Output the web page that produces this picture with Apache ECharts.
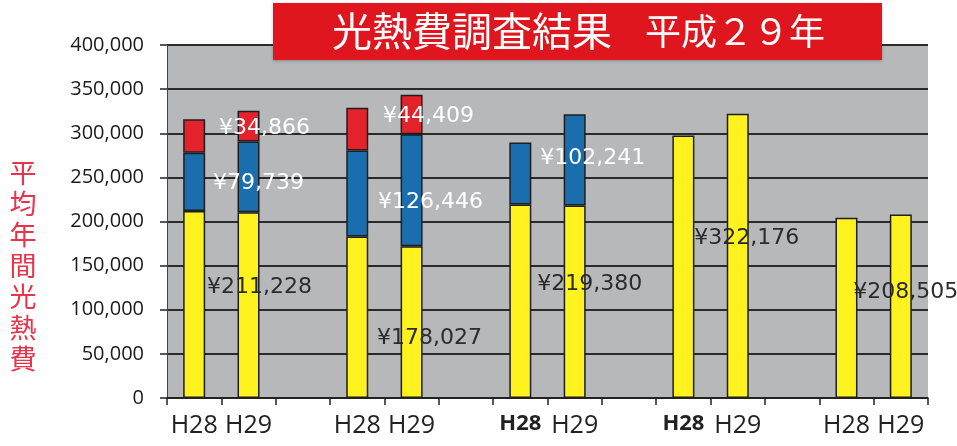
<!DOCTYPE html>
<html>
<head>
<meta charset="utf-8">
<script src="https://cdn.jsdelivr.net/npm/echarts@6/dist/echarts.min.js"></script>
<style>
    body { margin: 0; background: #fff; }
    #chart { width: 957px; height: 446px; }
</style>
</head>
<body>
<div id="chart"></div>
<script>

// 横軸（空欄はグループ間のすき間）
const categories = ['H28', 'H29', '', 'H28', 'H29', '', 'H28', 'H29', '', 'H28', 'H29', '', 'H28', 'H29'];

// 積み上げ値（下から 黄・青・赤）
const yellowValues = [212000, 210600, '-', 183000, 172000, '-', 219300, 218200, '-', 297500, 322200, '-', 204200, 208000];
const blueValues   = [66000, 80000, '-', 97500, 127000, '-', 70100, 103400, '-', '-', '-', '-', '-', '-'];
const redValues    = [37800, 34800, '-', 48500, 44500, '-', '-', '-', '-', '-', '-', '-', '-', '-'];

// H29 に書かれている金額
const yellowLabels = [null, 211228, null, null, 178027, null, null, 219380, null, null, 322176, null, null, 208505];
const blueLabels   = [null, 79739, null, null, 126446, null, null, 102241, null, null, null, null, null, null];
const redLabels    = [null, 34866, null, null, 44409, null, null, null, null, null, null, null, null, null];

const yTicks = [0, 50000, 100000, 150000, 200000, 250000, 300000, 350000, 400000];

// ラベルのずれ（位置調整）
const yellowOffsets = { 1: [11, -18], 4: [18, 16], 7: [15, -17], 10: [9, -18], 13: [5, -14] };
const blueOffsets   = { 1: [10, 6], 4: [19, 12], 7: [18, -2] };
const redOffsets    = { 1: [16, 2], 4: [17, 2] };

function yen(v){
    return '¥' + v.toLocaleString('en-US');
}

function buildData(values, labels, offsets, color){
    return values.map((v, i) => {
        if (labels[i] == null) return v;
        return {
            value: v,
            label: {
                show: true,
                position: 'inside',
                formatter: yen(labels[i]),
                offset: offsets[i],
                color: color,
                fontFamily: 'DejaVu Sans',
                fontSize: 22,
            }
        };
    });
}

const barStyle = (color) => ({
    color: color,
    borderColor: '#1e1e1e',
    borderWidth: 1.5,
});

const charts = echarts.init(document.getElementById('chart'));

let option = {
    animation: false,
    grid: {
        left: 167,
        right: 29,
        top: 45,
        bottom: 48,
        show: true,
        backgroundColor: '#b7b8ba',
        borderWidth: 0,
    },
    xAxis: {
        type: 'category',
        data: categories,
        axisLine: { lineStyle: { color: '#222', width: 1.5 } },
        axisTick: { show: true, length: 7, interval: 0, lineStyle: { color: '#222', width: 1.5 } },
        axisLabel: {
            interval: 0,
            margin: 15,
            color: '#222',
            fontFamily: 'Open Sans',
            fontSize: 25,
            formatter: (value, index) => (index === 6 || index === 9) ? '{b|' + value + '}' : value,
            rich: {
                b: { fontFamily: 'Open Sans', fontWeight: 'bold', fontSize: 22, color: '#222' }
            }
        },
    },
    yAxis: {
        type: 'value',
        min: yTicks[0],
        max: yTicks[yTicks.length - 1],
        interval: yTicks[1] - yTicks[0],
        axisLine: { show: true, lineStyle: { color: '#444', width: 1 } },
        axisTick: { show: true, length: 7, lineStyle: { color: '#222', width: 1.5 } },
        axisLabel: {
            margin: 23,
            color: '#1a1a1a',
            fontFamily: 'Open Sans',
            fontSize: 20,
            formatter: (v) => v.toLocaleString('en-US'),
        },
        splitLine: { lineStyle: { color: '#2a2a2a', width: 1.8 } },
    },
    series: [
        {
            name: 'yellow',
            type: 'bar',
            stack: 'total',
            barWidth: 22,
            itemStyle: barStyle('#fff21e'),
            data: buildData(yellowValues, yellowLabels, yellowOffsets, '#2b2b2b'),
        },
        {
            name: 'blue',
            type: 'bar',
            stack: 'total',
            barWidth: 22,
            itemStyle: barStyle('#1b6ead'),
            data: buildData(blueValues, blueLabels, blueOffsets, '#ffffff'),
        },
        {
            name: 'red',
            type: 'bar',
            stack: 'total',
            barWidth: 22,
            itemStyle: barStyle('#e4222c'),
            data: buildData(redValues, redLabels, redOffsets, '#ffffff'),
        },
    ],
    graphic: [
        // タイトルの赤い帯
        {
            type: 'rect',
            z: 100,
            shape: { x: 273, y: 3, width: 609, height: 57 },
            style: { fill: '#e0161f', shadowColor: 'rgba(0,0,0,0.25)', shadowBlur: 3, shadowOffsetY: 1 },
        },
        {
            type: 'text',
            z: 101,
            x: 332,
            y: 31,
            style: {
                text: '光熱費調査結果',
                fill: '#ffffff',
                fontFamily: 'Noto Sans CJK JP',
                fontSize: 40,
                align: 'left',
                verticalAlign: 'middle',
            },
        },
        {
            type: 'text',
            z: 101,
            x: 645,
            y: 31,
            style: {
                text: '平成２９年',
                fill: '#ffffff',
                fontFamily: 'Noto Sans CJK JP',
                fontSize: 36,
                align: 'left',
                verticalAlign: 'middle',
            },
        },
        // 縦書きの軸タイトル
        {
            type: 'text',
            z: 100,
            x: 23,
            y: 157,
            style: {
                text: '平\n均\n年\n間\n光\n熱\n費',
                fill: '#e8334a',
                fontFamily: 'Noto Sans CJK JP',
                fontSize: 27,
                lineHeight: 31,
                align: 'center',
            },
        },
    ],
};

charts.setOption(option);
</script>
</body>
</html>
